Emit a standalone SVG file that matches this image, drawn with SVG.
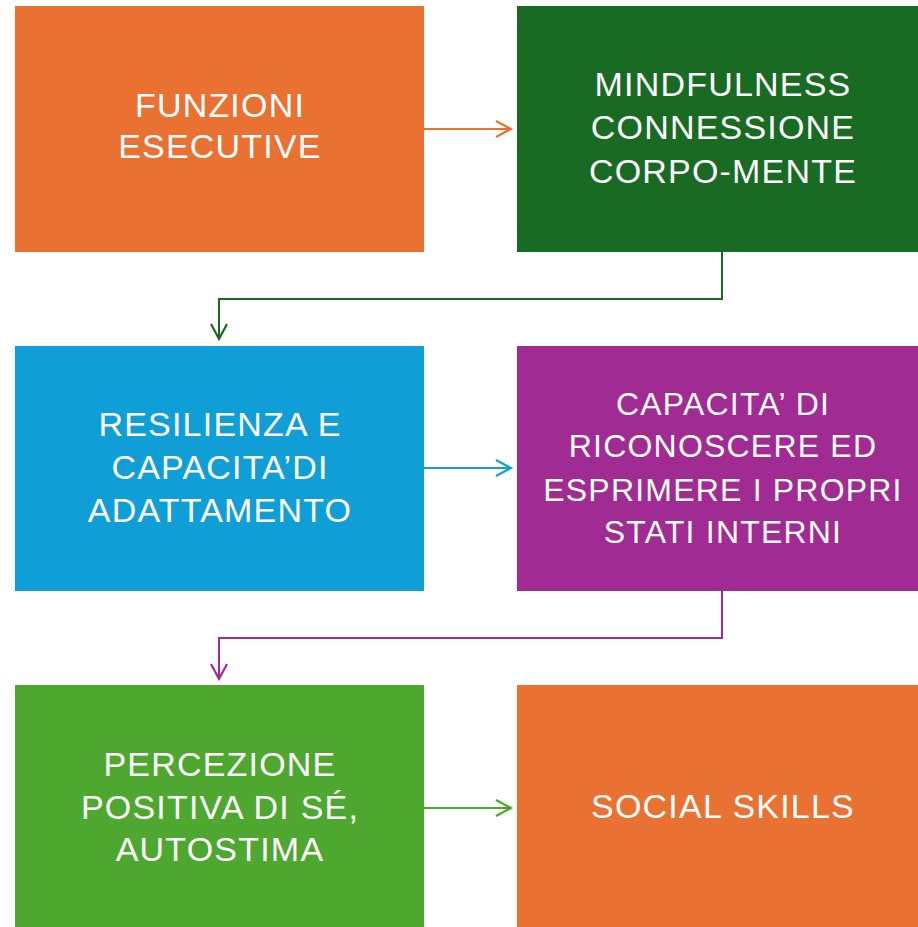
<svg xmlns="http://www.w3.org/2000/svg" width="918" height="927" viewBox="0 0 918 927">
<style>
.t{font-family:"Liberation Sans",Arial,sans-serif;font-size:34px;fill:#ffffff;text-anchor:middle;letter-spacing:1.2px}
.s{font-size:32px}
.c{fill:none;stroke-width:2}
</style>
<defs>
<marker id="mo" markerUnits="userSpaceOnUse" markerWidth="20" markerHeight="20" viewBox="-17 -10 20 20" refX="0" refY="0" orient="auto"><path d="M-15,-8 L0,0 L-15,8" fill="none" stroke="#E97132" stroke-width="2.2"/></marker>
<marker id="mg" markerUnits="userSpaceOnUse" markerWidth="20" markerHeight="20" viewBox="-17 -10 20 20" refX="0" refY="0" orient="auto"><path d="M-15,-8 L0,0 L-15,8" fill="none" stroke="#196B24" stroke-width="2.2"/></marker>
<marker id="mb" markerUnits="userSpaceOnUse" markerWidth="20" markerHeight="20" viewBox="-17 -10 20 20" refX="0" refY="0" orient="auto"><path d="M-15,-8 L0,0 L-15,8" fill="none" stroke="#0F9ED5" stroke-width="2.2"/></marker>
<marker id="mp" markerUnits="userSpaceOnUse" markerWidth="20" markerHeight="20" viewBox="-17 -10 20 20" refX="0" refY="0" orient="auto"><path d="M-15,-8 L0,0 L-15,8" fill="none" stroke="#A02B93" stroke-width="2.2"/></marker>
<marker id="ml" markerUnits="userSpaceOnUse" markerWidth="20" markerHeight="20" viewBox="-17 -10 20 20" refX="0" refY="0" orient="auto"><path d="M-15,-8 L0,0 L-15,8" fill="none" stroke="#4EA72E" stroke-width="2.2"/></marker>
</defs>
<rect width="918" height="927" fill="#ffffff"/>
<g id="n1"><rect x="15" y="6" width="409" height="246" fill="#E97132"/>
<text class="t" x="220" y="117">FUNZIONI</text><text class="t" x="220" y="158">ESECUTIVE</text></g>
<g id="n2"><rect x="517" y="6" width="401" height="246" fill="#196B24"/>
<text class="t" x="723" y="96">MINDFULNESS</text><text class="t" x="723" y="139">CONNESSIONE</text><text class="t" x="723" y="183">CORPO-MENTE</text></g>
<g id="n3"><rect x="15" y="346" width="409" height="245" fill="#0F9ED5"/>
<text class="t" x="220" y="436">RESILIENZA E</text><text class="t" x="220" y="479">CAPACITA’DI</text><text class="t" x="220" y="522">ADATTAMENTO</text></g>
<g id="n4"><rect x="517" y="346" width="401" height="245" fill="#A02B93"/>
<text class="t s" x="723" y="415">CAPACITA’ DI</text><text class="t s" x="723" y="457">RICONOSCERE ED</text><text class="t s" x="723" y="501">ESPRIMERE I PROPRI</text><text class="t s" x="723" y="543">STATI INTERNI</text></g>
<g id="n5"><rect x="15" y="685" width="409" height="242" fill="#4EA72E"/>
<text class="t" x="220" y="776">PERCEZIONE</text><text class="t" x="220" y="819">POSITIVA DI SÉ,</text><text class="t" x="220" y="861">AUTOSTIMA</text></g>
<g id="n6"><rect x="517" y="685" width="401" height="242" fill="#E97132"/>
<text class="t" x="723" y="818">SOCIAL SKILLS</text></g>
<g id="connectors">
<path class="c" d="M424,129 H511" stroke="#E97132" marker-end="url(#mo)"/>
<path class="c" d="M722,252 V299 H219 V339" stroke="#196B24" marker-end="url(#mg)"/>
<path class="c" d="M424,468 H511" stroke="#0F9ED5" marker-end="url(#mb)"/>
<path class="c" d="M722,591 V638 H219 V679" stroke="#A02B93" marker-end="url(#mp)"/>
<path class="c" d="M424,808 H511" stroke="#4EA72E" marker-end="url(#ml)"/>
</g>
</svg>
